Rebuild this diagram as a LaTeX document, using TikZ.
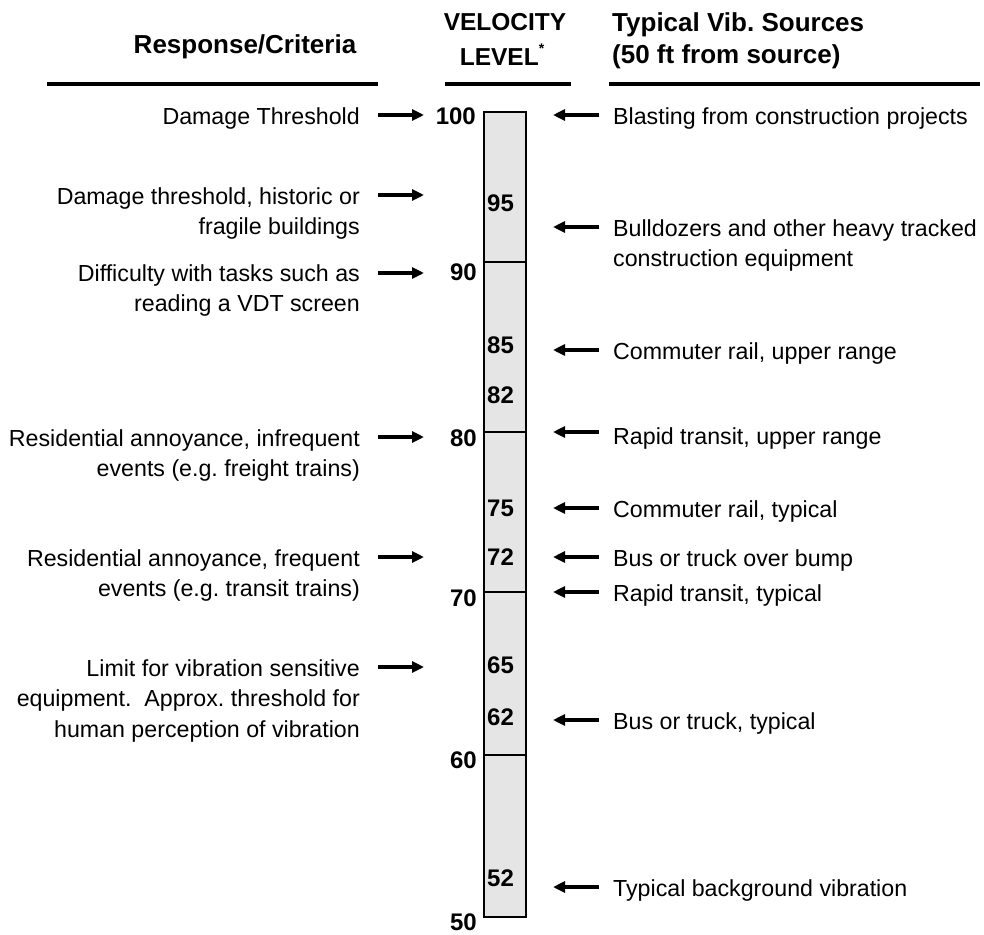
\documentclass[tikz,border=0pt]{standalone}
\usepackage{fontspec}
\setmainfont{Liberation Sans}
\usetikzlibrary{arrows.meta}
\begin{document}
\begin{tikzpicture}[x=1pt,y=-1pt,
  body/.style={font=\fontsize{23.2}{30.5}\selectfont, inner sep=0pt},
  lefttxt/.style={body, align=right, anchor=north east},
  righttxt/.style={body, align=left, anchor=north west},
  head/.style={font=\fontsize{26}{32}\selectfont\bfseries, inner sep=0pt},
  headv/.style={font=\fontsize{24.5}{32}\selectfont\bfseries, inner sep=0pt},
  num/.style={font=\fontsize{24}{24}\selectfont\bfseries, inner sep=0pt},
  outnum/.style={num, anchor=east},
  innum/.style={num, anchor=west},
  arr/.style={line width=3.5pt, -{Triangle[length=12pt,width=11pt]}},
  rule/.style={line width=4.5pt},
  tick/.style={line width=2pt}]
\useasboundingbox (0,0) rectangle (984,934);
% headers
\node[head] (hresp) at (245,47) {Response/Criteria};
\node[headv] (hvel) at (505,22) {VELOCITY};
\node[headv] (hlev) at (502,55) {LEVEL\raisebox{0.5em}{\fontsize{14}{14}\selectfont *}};
\node[head, anchor=west] (hsrc1) at (612,25) {Typical Vib.\ Sources};
\node[head, anchor=west] (hsrc2) at (612,57) {(50 ft from source)};
\draw[rule] (47,84) -- (378,84);
\draw[rule] (445,84) -- (571,84);
\draw[rule] (609,84) -- (980,84);
% bar
\node[draw, line width=1.5pt, fill=black!10, minimum width=42pt, minimum height=805pt, inner sep=0pt] (bar) at (505,514.5) {};
\foreach \yy in {262,432,592,755} \draw[tick] (484,\yy) -- (526,\yy);
% outer numbers
\node[outnum] (n100) at (476,116) {100};
\node[outnum] (n90) at (477,272) {90};
\node[outnum] (n80) at (477,438) {80};
\node[outnum] (n70) at (477,598) {70};
\node[outnum] (n60) at (477,760) {60};
\node[outnum] (n50) at (477,922) {50};
% inner numbers
\node[innum] (i95) at (487,203) {95};
\node[innum] (i85) at (487,345) {85};
\node[innum] (i82) at (487,395) {82};
\node[innum] (i75) at (487,508) {75};
\node[innum] (i72) at (487,557) {72};
\node[innum] (i65) at (487,665) {65};
\node[innum] (i62) at (487,717) {62};
\node[innum] (i52) at (487,878) {52};
% left texts
\node[lefttxt] (l1) at (360,107) {Damage Threshold};
\node[lefttxt] (l2) at (360,187) {Damage threshold, historic or\\fragile buildings};
\node[lefttxt] (l3) at (360,264) {Difficulty with tasks such as\\reading a VDT screen};
\node[lefttxt] (l4) at (360,429) {Residential annoyance, infrequent\\events (e.g.\ freight trains)};
\node[lefttxt] (l5) at (360,549) {Residential annoyance, frequent\\events (e.g.\ transit trains)};
\node[lefttxt] (l6) at (360,659) {Limit for vibration sensitive\\equipment.\ \ Approx.\ threshold for\\human perception of vibration};
% left arrows
\foreach \k/\yy in {1/115,2/195,3/273,4/437,5/557,6/667}{
  \coordinate (la\k s) at (378,\yy);
  \coordinate (la\k e) at (424,\yy);
  \draw[arr] (la\k s) -- (la\k e);
}
% right texts
\node[righttxt] (r1) at (613,107) {Blasting from construction projects};
\node[righttxt] (r2) at (613,219) {Bulldozers and other heavy tracked\\construction equipment};
\node[righttxt] (r3) at (613,342) {Commuter rail, upper range};
\node[righttxt] (r4) at (613,427) {Rapid transit, upper range};
\node[righttxt] (r5) at (613,500) {Commuter rail, typical};
\node[righttxt] (r6) at (613,549) {Bus or truck over bump};
\node[righttxt] (r7) at (613,584) {Rapid transit, typical};
\node[righttxt] (r8) at (613,712) {Bus or truck, typical};
\node[righttxt] (r9) at (613,879) {Typical background vibration};
% right arrows
\foreach \k/\yy in {1/115,2/227,3/350,4/432,5/508,6/557,7/592,8/720,9/887}{
  \coordinate (ra\k s) at (599,\yy);
  \coordinate (ra\k e) at (553,\yy);
  \draw[arr] (ra\k s) -- (ra\k e);
}
\end{tikzpicture}
\end{document}
